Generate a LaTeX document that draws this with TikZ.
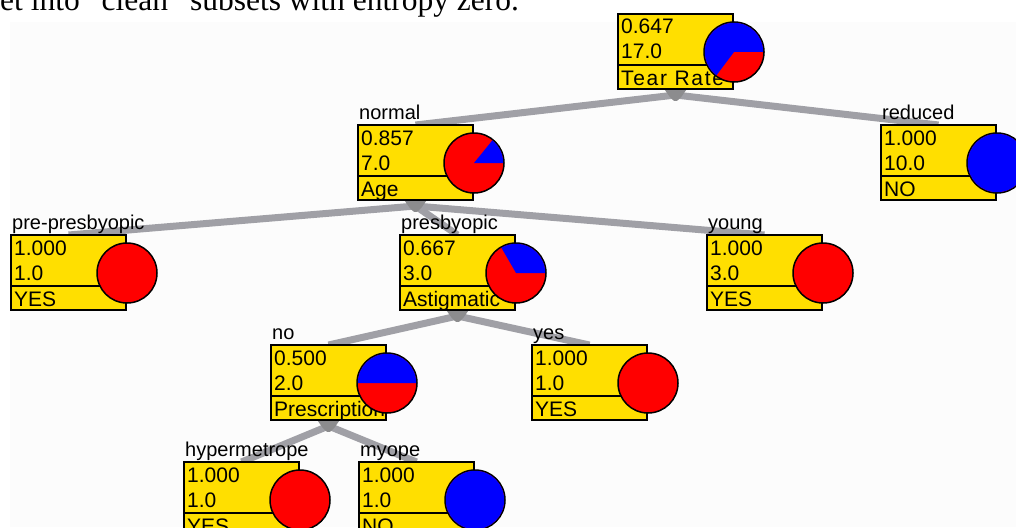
\documentclass[tikz,border=0pt]{standalone}
\usepackage{fontspec}
\setmainfont{Liberation Sans}
\newfontfamily\serifhead{Liberation Serif}
\usetikzlibrary{calc}
\pgfdeclarelayer{bglayer}
\pgfdeclarelayer{edgelayer}
\pgfsetlayers{bglayer,edgelayer,main}

\definecolor{boxyellow}{RGB}{255,223,0}
\definecolor{edgegray}{RGB}{160,160,166}
\definecolor{knobgray}{RGB}{140,140,142}
\definecolor{panelbg}{RGB}{252,252,252}
\definecolor{pieRed}{RGB}{255,0,0}
\definecolor{pieBlue}{RGB}{0,0,255}

\tikzset{
  dtbox/.style={draw=black, line width=1.4pt, fill=boxyellow, minimum width=115pt,
    minimum height=75pt, inner sep=0pt, outer sep=0pt, anchor=north west},
  dtlabel/.style={font=\fontsize{20}{20}\selectfont, inner sep=0pt, anchor=base west},
  dttext/.style={font=\fontsize{21}{21}\selectfont, inner sep=0pt, anchor=base west},
  dtedge/.style={draw=edgegray, line width=7pt},
  dtknob/.style={fill=knobgray, rounded corners=2pt},
  pienode/.style={circle, draw=black, line width=1.5pt, fill=pieRed, minimum size=60pt, inner sep=0pt},
  headtext/.style={font=\serifhead\fontsize{31.5}{31.5}\selectfont, inner sep=0pt, anchor=base west},
}

% #1 name, #2 left, #3 top, #4 label, #5 value, #6 count, #7 attribute, #8 blue end angle
\newcommand\dtnode[8]{%
  \node[dtbox] (#1) at (#2,#3) {};
  \draw[line width=1.4pt] (#2,#3+51) -- (#2+115,#3+51);
  \node[dtlabel] (#1-label) at (#2+1,#3-6) {#4};
  \node[dttext] (#1-value) at (#2+3,#3+20) {#5};
  \node[dttext] (#1-count) at (#2+3,#3+45) {#6};
  \node[dttext] (#1-attr) at (#2+3,#3+71) {#7};
  \node[pienode] (#1-pie) at (#2+116,#3+38) {};
  \ifnum#8>0
    \fill[pieBlue] (#1-pie.center) -- ++(0:29.2pt) arc[start angle=0, end angle=#8, radius=29.2pt] -- cycle;
  \fi
}
\newcommand\dtedge[2]{\draw[dtedge] ($(#1.south)+(0,6)$) -- (#2.north);}
\newcommand\dtknob[1]{\fill[dtknob] ($(#1.south)+(-12,-1)$) -- ++(24,0) -- ++(-7,10) -- ++(-5,4) -- ++(-5,-4) -- cycle;}

\begin{document}
\begin{tikzpicture}[x=1pt, y=-1pt]
  \useasboundingbox (0,0) rectangle (1016,527);
  \clip (0,0) rectangle (1016,527);
  \begin{pgfonlayer}{bglayer}
    \fill[panelbg] (10,22) rectangle (1016,527);
  \end{pgfonlayer}

  \node[headtext] (heading) at (0,11) {et into “clean” subsets with entropy zero.};

  \dtnode{root}{618}{14}{}{0.647}{17.0}{\addfontfeatures{LetterSpace=8}Tear Rate}{233}
  \dtnode{reduced}{881}{125}{reduced}{1.000}{10.0}{NO}{360}
  \dtnode{normal}{358}{125}{normal}{0.857}{7.0}{Age}{51}
  \dtnode{prepres}{11}{235}{pre-presbyopic}{1.000}{1.0}{YES}{0}
  \dtnode{presby}{400}{235}{presbyopic}{0.667}{3.0}{Astigmatic}{120}
  \dtnode{young}{707}{235}{young}{1.000}{3.0}{YES}{0}
  \dtnode{astno}{271}{345}{no}{0.500}{2.0}{Prescription}{180}
  \dtnode{astyes}{532}{345}{yes}{1.000}{1.0}{YES}{0}
  \dtnode{hyper}{184}{462}{hypermetrope}{1.000}{1.0}{YES}{0}
  \dtnode{myope}{359}{462}{myope}{1.000}{1.0}{NO}{360}

  \begin{pgfonlayer}{edgelayer}
    \dtedge{root}{normal}
    \dtedge{root}{reduced}
    \dtedge{normal}{prepres}
    \dtedge{normal}{presby}
    \dtedge{normal}{young}
    \dtedge{presby}{astno}
    \dtedge{presby}{astyes}
    \dtedge{astno}{hyper}
    \dtedge{astno}{myope}
    \dtknob{root}
    \dtknob{normal}
    \dtknob{presby}
    \dtknob{astno}
  \end{pgfonlayer}
\end{tikzpicture}
\end{document}
